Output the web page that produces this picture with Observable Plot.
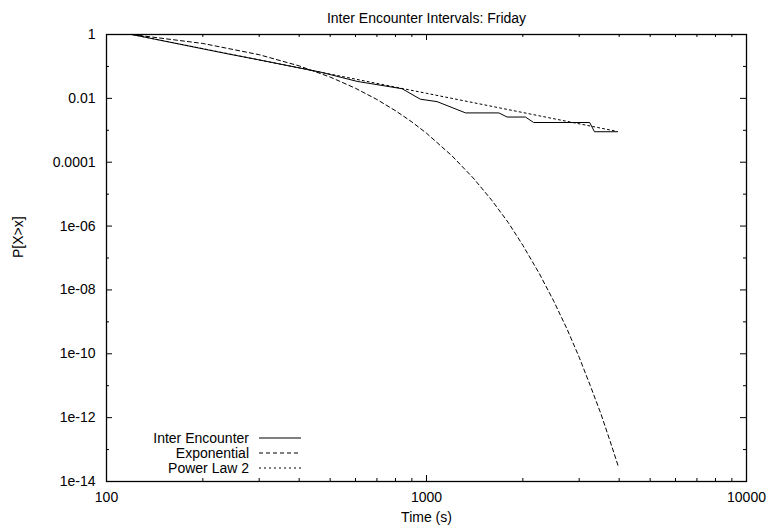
<!DOCTYPE html>
<html>
<head>
<meta charset="utf-8">
<script src="https://cdn.jsdelivr.net/npm/d3@7"></script>
<script src="https://cdn.jsdelivr.net/npm/@observablehq/plot@0.6"></script>
<style>
  html, body { margin: 0; padding: 0; background: #fff; }
  svg { display: block; }
</style>
</head>
<body>
<div id="chart"></div>
<script>
// ---- data ----
const titleText = "Inter Encounter Intervals: Friday";
const xLabel = "Time (s)";
const yLabel = "P[X>x]";

const seriesNames = ["Inter Encounter", "Exponential", "Power Law 2"];

// Inter Encounter (empirical CCDF)
const interX = [120, 238, 300, 467, 607, 839, 957, 1079, 1325, 1683, 1786, 2038, 2163, 3236, 3349, 3946];
const interP = [1, 0.25, 0.16, 0.066, 0.034, 0.020, 0.0094, 0.0079, 0.0035, 0.0035, 0.0026, 0.0026, 0.00175, 0.00175, 0.0009, 0.0009];

// Exponential fit
const expX = [120, 200, 300, 400, 500, 600, 700, 800, 900, 1000, 1200, 1400, 1600, 1800, 2000, 2250, 2500, 2750, 3000, 3250, 3500, 3750, 3970];
const expP = [1, 0.524, 0.233, 0.104, 0.0464, 0.0207, 0.0092, 0.0041, 1.83e-3, 8.1e-4, 1.6e-4, 3.2e-5, 6.4e-6, 1.3e-6, 2.5e-7, 3.3e-8, 4.4e-9, 5.9e-10, 7.8e-11, 1.0e-11, 1.4e-12, 1.8e-13, 3.1e-14];

// Power law fit
const powX = [120, 200, 300, 500, 1000, 2000, 3950];
const powP = [1, 0.36, 0.16, 0.0576, 0.0144, 0.0036, 0.00092];

// axis ticks
const xMajorTicks = [100, 1000, 10000];
const xTickLabels = ["100", "1000", "10000"];
const xMinorTicks = [200, 300, 400, 500, 600, 700, 800, 900, 2000, 3000, 4000, 5000, 6000, 7000, 8000, 9000];
const yMajorTicks = [1, 1e-2, 1e-4, 1e-6, 1e-8, 1e-10, 1e-12, 1e-14];
const yTickLabels = ["1", "0.01", "0.0001", "1e-06", "1e-08", "1e-10", "1e-12", "1e-14"];
const yMinorTicks = [1e-1, 1e-3, 1e-5, 1e-7, 1e-9, 1e-11, 1e-13];

// ---- build tables ----
const interData = interX.map((x, i) => ({x, p: interP[i]}));
const expData = expX.map((x, i) => ({x, p: expP[i]}));
const powData = powX.map((x, i) => ({x, p: powP[i]}));

const W = 771, H = 531;
const mL = 106, mR = 25, mT = 34, mB = 50;
const fw = W - mL - mR, fh = H - mT - mB;
const majorLen = 6, minorLen = 3;
const font = "'Liberation Sans', Arial, Helvetica, sans-serif";

const xFmt = d => xTickLabels[xMajorTicks.indexOf(d)];
const yFmt = d => yTickLabels[yMajorTicks.findIndex(v => Math.abs(Math.log10(v) - Math.log10(d)) < 1e-6)];

const chart = Plot.plot({
  width: W,
  height: H,
  marginLeft: mL, marginRight: mR, marginTop: mT, marginBottom: mB,
  style: {fontFamily: font, fontSize: "14px", background: "#fff", color: "#000"},
  x: {type: "log", domain: [100, 10000]},
  y: {type: "log", domain: [1e-14, 1]},
  marks: [
    // tick labels
    Plot.axisX({ticks: xMajorTicks, tickFormat: xFmt, tickSize: 0, tickPadding: 11, fontSize: 14, label: null}),
    Plot.axisY({ticks: yMajorTicks, tickFormat: yFmt, tickSize: 0, tickPadding: 11, fontSize: 14, label: null}),
    // inward ticks on all four sides
    Plot.tickX(xMajorTicks, {x: d => d, insetTop: fh - majorLen, stroke: "#000"}),
    Plot.tickX(xMinorTicks, {x: d => d, insetTop: fh - minorLen, stroke: "#000"}),
    Plot.tickX(xMajorTicks, {x: d => d, insetBottom: fh - majorLen, stroke: "#000"}),
    Plot.tickX(xMinorTicks, {x: d => d, insetBottom: fh - minorLen, stroke: "#000"}),
    Plot.tickY(yMajorTicks, {y: d => d, insetRight: fw - majorLen, stroke: "#000"}),
    Plot.tickY(yMinorTicks, {y: d => d, insetRight: fw - minorLen, stroke: "#000"}),
    Plot.tickY(yMajorTicks, {y: d => d, insetLeft: fw - majorLen, stroke: "#000"}),
    Plot.tickY(yMinorTicks, {y: d => d, insetLeft: fw - minorLen, stroke: "#000"}),
    // series
    Plot.line(expData, {x: "x", y: "p", stroke: "#000", strokeWidth: 1, strokeDasharray: "4,3"}),
    Plot.line(powData, {x: "x", y: "p", stroke: "#000", strokeWidth: 1, strokeDasharray: "2,3"}),
    Plot.line(interData, {x: "x", y: "p", stroke: "#000", strokeWidth: 1}),
    Plot.frame({stroke: "#000", strokeWidth: 1.3}),
    // title and axis labels
    Plot.text([titleText], {frameAnchor: "top", dy: -21, text: d => d, fontSize: 14, fill: "#000"}),
    Plot.text([xLabel], {frameAnchor: "bottom", dy: 40, text: d => d, fontSize: 14, fill: "#000"}),
    Plot.text([yLabel], {frameAnchor: "left", dx: -88, rotate: -90, text: d => d, fontSize: 14, fill: "#000"})
  ]
});

document.getElementById("chart").appendChild(chart);

// legend (bottom-left inside the frame)
const svg = d3.select(chart);
const legend = svg.append("g").attr("font-family", font).attr("font-size", 14);
const dashes = [null, "4,3", "2,3"];
const rowY = [438, 453, 468];
seriesNames.forEach((name, i) => {
  legend.append("text")
    .attr("x", 249).attr("y", rowY[i]).attr("dy", "0.35em")
    .attr("text-anchor", "end").attr("fill", "#000").text(name);
  legend.append("line")
    .attr("x1", 259).attr("x2", 301).attr("y1", rowY[i]).attr("y2", rowY[i])
    .attr("stroke", "#000").attr("stroke-width", 1)
    .attr("stroke-dasharray", dashes[i]);
});
</script>
</body>
</html>
